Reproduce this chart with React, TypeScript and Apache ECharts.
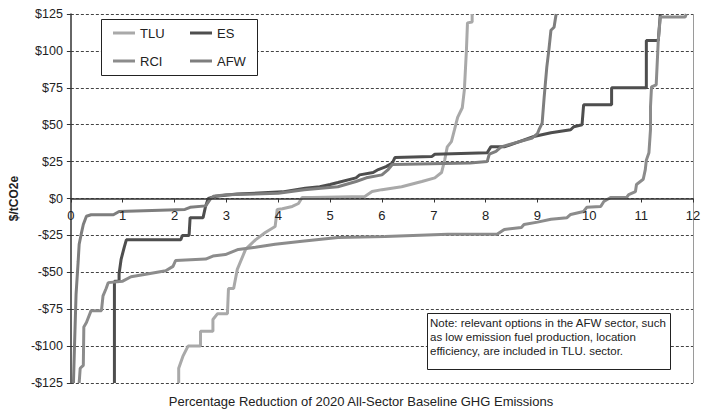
import React, { useEffect, useRef } from "react";
import * as echarts from "echarts";

const SERIES_NAMES = ["TLU", "ES", "RCI", "AFW"];
const SERIES_COLORS = ["#a9a9a9", "#4e4e4e", "#8c8c8c", "#7e7e7e"];

const TLU_X = [2.08, 2.08, 2.16, 2.26, 2.5, 2.5, 2.74, 2.74, 2.83, 3.02, 3.04, 3.14, 3.21, 3.37, 3.56, 3.75, 3.94, 3.98, 4.08, 4.27, 4.39, 4.46, 4.65, 5.67, 5.81, 6.0, 6.38, 6.77, 7.02, 7.15, 7.21, 7.26, 7.34, 7.4, 7.46, 7.55, 7.59, 7.63, 7.65, 7.74, 7.74];
const TLU_Y = [-125, -115, -107, -100, -100, -90, -90, -82, -78, -78, -61, -61, -48, -34.5, -28, -23, -19, -7.4, -7, -5.4, -3.4, 0.7, 0.7, 1.4, 4.7, 6, 8, 11.5, 14, 17.6, 26, 35, 38.5, 46.6, 55, 61.5, 73.6, 100.7, 119, 119.6, 125];

const ES_X = [0.84, 0.84, 0.93, 0.93, 0.97, 1.03, 1.07, 2.12, 2.15, 2.28, 2.3, 2.55, 2.6, 2.65, 2.8, 3.2, 4.08, 4.52, 4.8, 5.0, 5.15, 5.5, 5.57, 5.83, 5.93, 6.08, 6.2, 6.25, 6.96, 7.02, 8.03, 8.1, 8.36, 8.61, 8.93, 9.26, 9.64, 9.7, 9.86, 9.89, 10.43, 10.43, 11.1, 11.1, 11.33, 11.37];
const ES_Y = [-125, -56, -56, -51, -41, -33, -28, -28, -25, -25, -13, -13, -5, 0, 1.5, 3, 4.5, 7, 8, 9.5, 10.8, 14, 16, 17.6, 19.6, 21.6, 24, 27.7, 28.4, 30, 31, 35, 35, 38, 42, 44.6, 46.6, 48.6, 50, 63.5, 63.5, 75, 75, 107, 107, 125];

const RCI_X = [0.16, 0.18, 0.24, 0.25, 0.3, 0.39, 0.59, 0.62, 0.68, 0.72, 1.0, 1.16, 1.5, 1.83, 1.97, 2.02, 2.6, 2.74, 2.98, 3.23, 3.56, 3.94, 4.46, 5.15, 6.06, 7.27, 8.22, 8.36, 8.69, 8.74, 9.0, 9.26, 9.57, 9.64, 9.89, 9.95, 10.22, 10.28, 10.41, 10.72, 10.76, 10.89, 10.91, 11.04, 11.08, 11.1, 11.15, 11.18, 11.18, 11.2, 11.29, 11.33, 11.37, 11.85, 11.87];
const RCI_Y = [-125, -115, -113, -87, -84, -76, -76, -66, -61, -57, -56, -53, -51, -49, -46, -42, -41, -39, -38, -34.5, -33, -31, -29, -26.4, -25.7, -24.3, -24.3, -21, -19.6, -17.6, -16, -14, -13, -10.8, -8.8, -6, -5.4, -2, 0.7, 0.7, 2.7, 4.7, 9.5, 13, 19.6, 26, 31, 46.6, 62, 75.7, 77, 107, 123, 123, 125];

const AFW_X = [0.05, 0.07, 0.1, 0.14, 0.16, 0.2, 0.24, 0.3, 0.39, 0.82, 0.93, 2.2, 2.3, 2.6, 2.7, 2.75, 3.0, 4.0, 4.5, 5.15, 5.5, 5.7, 6.0, 6.12, 6.2, 7.7, 8.03, 8.07, 8.2, 8.3, 8.5, 8.9, 9.0, 9.03, 9.09, 9.13, 9.18, 9.22, 9.26, 9.32, 9.36];
const AFW_Y = [-125, -100, -65, -43, -31, -24, -17.6, -12, -11, -11, -8.8, -7.4, -6, -5, 0, 1.5, 2.5, 3.5, 6, 8, 11.5, 14, 16, 19.6, 23, 24, 25, 30, 32, 35, 37, 41, 44, 46.6, 51, 69, 89, 100.7, 114, 116, 125];

const X_MIN = 0;
const X_MAX = 12;
const Y_MIN = -125;
const Y_MAX = 125;
const Y_STEP = 25;

const X_TITLE = "Percentage Reduction of 2020 All-Sector Baseline GHG Emissions";
const Y_TITLE = "$/tCO2e";
const NOTE_LINES = [
  "Note: relevant options in the AFW sector, such",
  "as low emission fuel production, location",
  "efficiency, are included in TLU. sector.",
];

const FONT = "'Liberation Sans', Arial, sans-serif";

const GRID_TOP = 14;
const GRID_HEIGHT = 369;

function pairs(xs: number[], ys: number[]) {
  return xs.map((x, i) => [x, ys[i]]);
}

export default function App() {
  const ref = useRef<HTMLDivElement>(null);
  useEffect(() => {
    if (!ref.current) return;
    const chart = echarts.init(ref.current, undefined, { renderer: "svg" });
    const data = [pairs(TLU_X, TLU_Y), pairs(ES_X, ES_Y), pairs(RCI_X, RCI_Y), pairs(AFW_X, AFW_Y)];
    // place the x axis on the $0 line (distance from grid bottom to zero)
    const zeroOffset = -(GRID_HEIGHT * (0 - Y_MIN)) / (Y_MAX - Y_MIN);
    chart.setOption({
      animation: false,
      backgroundColor: "#ffffff",
      textStyle: { fontFamily: FONT },
      grid: { left: 65, right: 16, top: GRID_TOP, height: GRID_HEIGHT, containLabel: false },
      xAxis: {
        type: "value",
        min: X_MIN,
        max: X_MAX,
        interval: 1,
        position: "bottom",
        offset: zeroOffset,
        axisLine: { onZero: false, lineStyle: { color: "#333", width: 1.5 } },
        axisTick: { show: true, inside: false, length: 4, lineStyle: { color: "#333" } },
        axisLabel: { color: "#222", fontSize: 13, margin: 10, fontFamily: FONT },
        splitLine: { show: false },
        z: 4,
      },
      yAxis: {
        type: "value",
        min: Y_MIN,
        max: Y_MAX,
        interval: Y_STEP,
        name: Y_TITLE,
        nameLocation: "middle",
        nameRotate: 90,
        nameGap: 38,
        nameTextStyle: { color: "#222", fontSize: 12, fontWeight: "bold", fontFamily: FONT },
        axisLine: { show: true, onZero: false, lineStyle: { color: "#333", width: 1.5 } },
        axisTick: { show: true, length: 4, lineStyle: { color: "#333" } },
        axisLabel: {
          color: "#222",
          fontSize: 12.5,
          margin: 8,
          fontFamily: FONT,
          formatter: (v: number) => (v < 0 ? "-$" + Math.abs(v) : "$" + v),
        },
        splitLine: { show: true, lineStyle: { color: "#444", width: 1, type: [3, 2] } },
      },
      legend: {
        show: true,
        left: 113,
        top: 19,
        width: 160,
        z: 6,
        orient: "horizontal",
        icon: "rect",
        itemWidth: 22,
        itemHeight: 3,
        itemGap: 0,
        padding: 0,
        data: SERIES_NAMES,
        textStyle: { color: "#222", fontSize: 13, fontFamily: FONT, width: 50, lineHeight: 28, padding: [0, 0, 0, 0] },
      },
      graphic: [
        {
          type: "line",
          z: 1,
          shape: { x1: 693.5, y1: 14, x2: 693.5, y2: 383 },
          style: { stroke: "#9a9a9a", lineWidth: 1 },
        },
        {
          type: "rect",
          z: 5,
          shape: { x: 101.5, y: 19.5, width: 156, height: 56 },
          style: { fill: "#ffffff", stroke: "#222", lineWidth: 1 },
        },
        {
          type: "rect",
          z: 5,
          shape: { x: 427.5, y: 313.5, width: 243, height: 56 },
          style: { fill: "#ffffff", stroke: "#222", lineWidth: 1 },
        },
        ...NOTE_LINES.map((t, i) => ({
          type: "text",
          z: 6,
          x: 430,
          y: 323 + i * 14,
          style: { text: t, fill: "#222", fontSize: 11.5, fontFamily: FONT, verticalAlign: "middle" },
        })),
        {
          type: "text",
          z: 6,
          x: 361,
          y: 401,
          style: { text: X_TITLE, fill: "#222", fontSize: 13, fontFamily: FONT, align: "center", verticalAlign: "middle" },
        },
      ],
      series: SERIES_NAMES.map((name, i) => ({
        name,
        type: "line",
        data: data[i],
        showSymbol: false,
        symbol: "none",
        smooth: false,
        color: SERIES_COLORS[i],
        lineStyle: { color: SERIES_COLORS[i], width: 3 },
        z: 3,
      })),
    });
    return () => chart.dispose();
  }, []);
  return <div ref={ref} style={{ position: "fixed", left: 0, top: 0, width: 709, height: 415 }} />;
}
